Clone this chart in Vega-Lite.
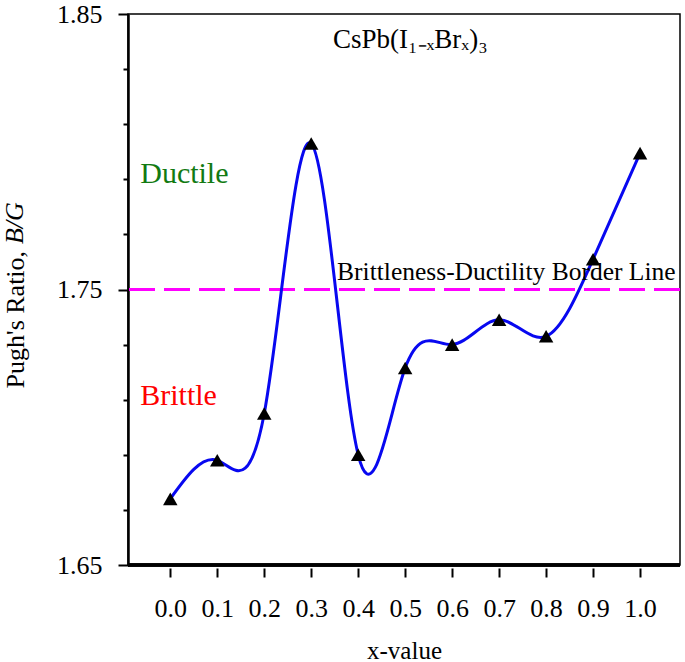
{
  "$schema": "https://vega.github.io/schema/vega-lite/v6.json",
  "width": 552,
  "height": 551,
  "autosize": "none",
  "padding": {"left": 128, "top": 14, "right": 5, "bottom": 97},
  "config": {
    "view": {"stroke": "black", "strokeWidth": 1.5},
    "font": "Liberation Serif"
  },
  "data": {"values": [
    {"x": 0.0, "r": 1.674},
    {"x": 0.1, "r": 1.688},
    {"x": 0.2, "r": 1.705},
    {"x": 0.3, "r": 1.803},
    {"x": 0.4, "r": 1.690},
    {"x": 0.5, "r": 1.7215},
    {"x": 0.6, "r": 1.730},
    {"x": 0.7, "r": 1.739},
    {"x": 0.8, "r": 1.733},
    {"x": 0.9, "r": 1.761},
    {"x": 1.0, "r": 1.7995}
  ]},
  "encoding": {
    "x": {
      "field": "x", "type": "quantitative",
      "scale": {"domain": [-0.09, 1.085], "nice": false, "zero": false},
      "axis": {
        "values": [0, 0.1, 0.2, 0.3, 0.4, 0.5, 0.6, 0.7, 0.8, 0.9, 1.0],
        "format": ".1f", "offset": 3, "domain": false, "grid": false,
        "tickSize": 9, "tickWidth": 2, "tickColor": "black",
        "labelFontSize": 26, "labelColor": "black", "labelPadding": 18,
        "labelFlush": false, "labelOverlap": false,
        "title": "x-value", "titleFontSize": 25, "titleFontWeight": "normal", "titleColor": "black",
        "titleX": 276, "titleY": 90, "titleBaseline": "alphabetic"
      }
    },
    "y": {
      "field": "r", "type": "quantitative",
      "scale": {"domain": [1.65, 1.85], "nice": false, "zero": false},
      "axis": {
        "values": [1.65, 1.67, 1.69, 1.71, 1.73, 1.75, 1.77, 1.79, 1.81, 1.83, 1.85],
        "labelExpr": "(datum.value == 1.65 || datum.value == 1.75 || datum.value == 1.85) ? format(datum.value, '.2f') : ''",
        "grid": false, "domain": true, "domainColor": "black", "domainWidth": 2.5,
        "tickSize": {"condition": {"test": "datum.value == 1.65 || datum.value == 1.75 || datum.value == 1.85", "value": 10}, "value": 5},
        "tickWidth": 2, "tickColor": "black",
        "labelFontSize": 26, "labelColor": "black", "labelPadding": 16,
        "labelFlush": false, "labelOverlap": false,
        "title": "Pugh's Ratio,", "titleFontSize": 26, "titleFontWeight": "normal", "titleColor": "black",
        "titleX": -100, "titleY": 374, "titleAlign": "left"
      }
    }
  },
  "layer": [
    {
      "mark": {"type": "rule", "color": "#ff00ff", "strokeWidth": 2, "strokeDash": [26, 9]},
      "encoding": {"x": null, "y": {"datum": 1.75}}
    },
    {
      "mark": {"type": "rule", "color": "black", "strokeWidth": 2.5},
      "encoding": {"x": null, "y": {"datum": 1.65}}
    },
    {
      "mark": {"type": "line", "interpolate": "natural", "color": "#0808f0", "strokeWidth": 3}
    },
    {
      "mark": {"type": "point", "shape": "triangle-up", "filled": true, "color": "black", "size": 210, "opacity": 1}
    },
    {
      "data": {"values": [{"x": 0.511, "r": 1.8377, "label": "CsPb(I₁₋ₓBrₓ)₃"}]},
      "mark": {"type": "text", "fontSize": 27, "color": "black", "align": "center", "baseline": "alphabetic"},
      "encoding": {"text": {"field": "label"}}
    },
    {
      "data": {"values": [{"x": 0.355, "r": 1.7534, "label": "Brittleness-Ductility Border Line"}]},
      "mark": {"type": "text", "fontSize": 25.5, "color": "black", "align": "left", "baseline": "alphabetic"},
      "encoding": {"text": {"field": "label"}}
    },
    {
      "data": {"values": [{"x": -0.064, "r": 1.7887, "label": "Ductile"}]},
      "mark": {"type": "text", "fontSize": 30, "color": "#127a12", "align": "left", "baseline": "alphabetic"},
      "encoding": {"text": {"field": "label"}}
    },
    {
      "data": {"values": [{"x": -0.064, "r": 1.708, "label": "Brittle"}]},
      "mark": {"type": "text", "fontSize": 30, "color": "#ff0000", "align": "left", "baseline": "alphabetic"},
      "encoding": {"text": {"field": "label"}}
    },
    {
      "data": {"values": [{"x": -0.3021, "r": 1.7665, "label": "B/G"}]},
      "mark": {"type": "text", "fontSize": 26, "fontStyle": "italic", "color": "black", "align": "left", "baseline": "bottom", "angle": 270, "clip": false},
      "encoding": {"text": {"field": "label"}}
    }
  ]
}
